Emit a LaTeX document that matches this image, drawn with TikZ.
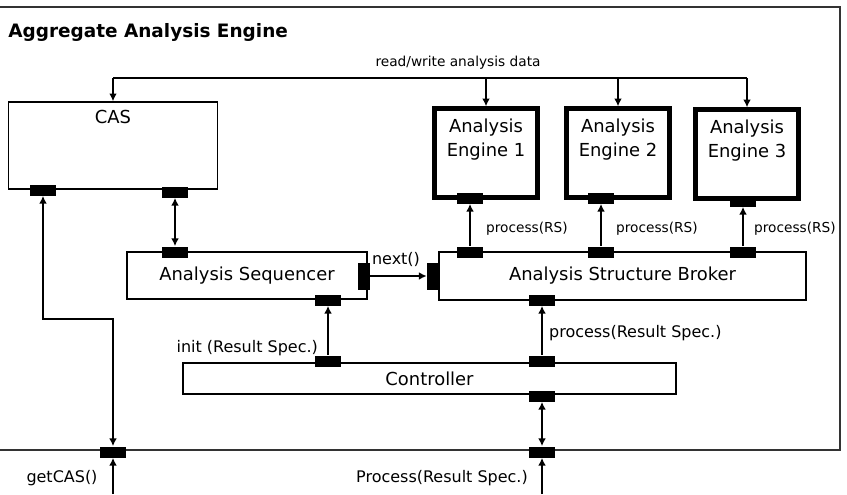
\documentclass[tikz,border=0pt]{standalone}
\usepackage{fontspec}
\setmainfont{DejaVu Sans}
\usetikzlibrary{calc,arrows.meta}

\begin{document}
\begin{tikzpicture}[x=0.02cm,y=-0.02cm,
  >={Latex[length=4.4pt,width=4.4pt]},
  box/.style={draw,line width=0.85pt,inner sep=0pt,font=\fontsize{10.2}{13.7}\selectfont},
  engine/.style={draw,line width=2.5pt,inner sep=0pt,minimum width=2.06cm,minimum height=1.78cm},
  hport/.style={fill=black,inner sep=0pt,minimum width=0.52cm,minimum height=0.22cm},
  vport/.style={fill=black,inner sep=0pt,minimum width=0.24cm,minimum height=0.54cm},
  conn/.style={line width=1.3pt},
  small/.style={font=\fontsize{7.8}{9}\selectfont,inner sep=1pt},
  medium/.style={font=\fontsize{9.1}{11}\selectfont,inner sep=1pt}]
\useasboundingbox (0,0) rectangle (847,494);
\draw[line width=1pt,black!80] (-10,7) rectangle (840,450);
\node[anchor=west,font=\bfseries\fontsize{10.5}{12}\selectfont,inner sep=0pt] (title) at (8,32) {Aggregate Analysis Engine};

\node[box,minimum width=4.18cm,minimum height=1.74cm,label={[anchor=north,font=\fontsize{10.2}{12}\selectfont,inner sep=5pt]north:CAS}] (cas) at (113,145.5) {};
\node[engine,label={[anchor=north,align=center,font=\fontsize{10.2}{13.7}\selectfont,inner sep=7pt]north:Analysis\\Engine 1}] (ae1) at (486,153) {};
\node[engine,label={[anchor=north,align=center,font=\fontsize{10.2}{13.7}\selectfont,inner sep=7pt]north:Analysis\\Engine 2}] (ae2) at (618,153) {};
\node[engine,label={[anchor=north,align=center,font=\fontsize{10.2}{13.7}\selectfont,inner sep=7pt]north:Analysis\\Engine 3}] (ae3) at (747,154) {};
\node[box,minimum width=4.8cm,minimum height=0.94cm] (seq) at (247,275.5) {Analysis Sequencer};
\node[box,minimum width=7.34cm,minimum height=0.96cm] (asb) at (622.5,276) {Analysis Structure Broker};
\node[box,minimum width=9.86cm,minimum height=0.62cm] (ctl) at (429.5,378.5) {Controller};

\node[hport] (cas-p1) at (43,190) {};
\node[hport] (cas-p2) at (175,192) {};
\node[hport] (seq-top) at (175,252) {};
\node[vport] (seq-right) at (364,276) {};
\node[hport] (seq-bot) at (328,300) {};
\node[vport] (asb-left) at (433,276) {};
\node[hport] (asb-p1) at (470,252) {};
\node[hport] (asb-p2) at (601,252) {};
\node[hport] (asb-p3) at (743,252) {};
\node[hport] (asb-bot) at (542,300) {};
\node[hport] (ae1-p) at (470,198) {};
\node[hport] (ae2-p) at (601,198) {};
\node[hport] (ae3-p) at (743,201) {};
\node[hport] (ctl-p1) at (328,361) {};
\node[hport] (ctl-p2) at (542,361) {};
\node[hport] (ctl-bot) at (542,396) {};
\node[hport] (in-p1) at (113,452) {};
\node[hport] (in-p2) at (542,452) {};

\coordinate (bus) at (0,78);
\draw[conn] (cas.north |- bus) -- (ae3.north |- bus);
\foreach \n in {cas,ae1,ae2,ae3}
  \draw[conn,->] (\n.north |- bus) -- (\n.north);
\node[small] (rw) at (458,63) {read/write analysis data};

\draw[conn,->] (asb-p1.north) -- (ae1-p.south);
\draw[conn,->] (asb-p2.north) -- (ae2-p.south);
\draw[conn,->] (asb-p3.north) -- (ae3-p.south);
\node[small,anchor=west] (rs1) at (484,229) {process(RS)};
\node[small,anchor=west] (rs2) at (614,229) {process(RS)};
\node[small,anchor=west] (rs3) at (752,229) {process(RS)};

\draw[conn,<->] (cas-p2.south) -- (seq-top.north);
\draw[conn,->] (seq-right.east) -- (asb-left.west);
\node[medium] (nx) at (396,259) {next()};

\draw[conn,->] (ctl-p1.north) -- (seq-bot.south);
\node[medium,anchor=east] (init) at (320,348) {init (Result Spec.)};
\draw[conn,->] (ctl-p2.north) -- (asb-bot.south);
\node[medium,anchor=west] (proc) at (547,333) {process(Result Spec.)};
\draw[conn,<->] (ctl-bot.south) -- (in-p2.north);

\coordinate (kink) at (113,319);
\draw[conn,<->] (cas-p1.south) |- (kink) -- (in-p1.north);
\coordinate (get-in) at (113,494);
\coordinate (proc-in) at (542,494);
\draw[conn,->] (get-in) -- (in-p1.south);
\draw[conn,->] (proc-in) -- (in-p2.south);
\node[medium] (get) at (62,478) {getCAS()};
\node[medium] (pr) at (442,478) {Process(Result Spec.)};
\end{tikzpicture}
\end{document}
